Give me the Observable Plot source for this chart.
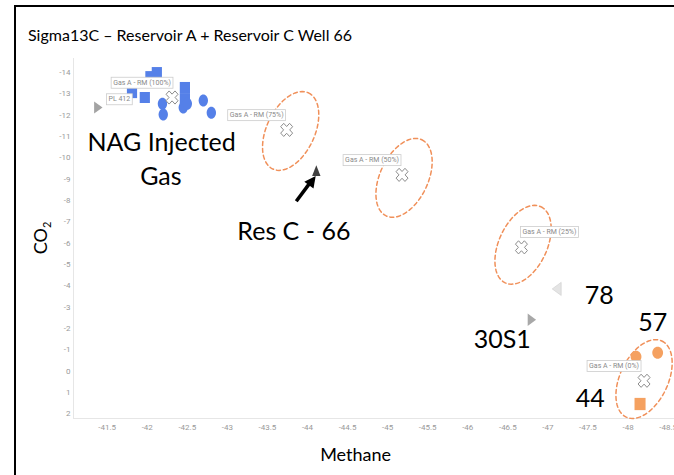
<!DOCTYPE html>
<html>
<head>
<meta charset="utf-8">
<script src="https://cdn.jsdelivr.net/npm/d3@7"></script>
<script src="https://cdn.jsdelivr.net/npm/@observablehq/plot@0.6"></script>
<style>
  body { margin: 0; background: #fff; }
  #wrap { position: relative; width: 674px; height: 475px; overflow: hidden; background: #fff; }
  #border { position: absolute; left: 14px; top: 5px; width: 700px; height: 500px; border-left: 2px solid #000; border-top: 2px solid #000; }
  #title { position: absolute; left: 28px; top: 25px; font: 16px Lato, "Open Sans", sans-serif; line-height: 20px; color: #000; white-space: nowrap; }
  #chart { position: absolute; left: 0; top: 50px; }
  #ylab { position: absolute; left: 41px; top: 238px; transform: translate(-50%, -50%) rotate(-90deg); font: 18px Lato, sans-serif; color: #000; white-space: nowrap; }
  #ylab sub { font-size: 11px; }
</style>
</head>
<body>
<div id="wrap">
  <div id="border"></div>
  <div id="title">Sigma13C – Reservoir A + Reservoir C Well 66</div>
  <div id="chart"></div>
  <div id="ylab">CO<sub>2</sub></div>
</div>
<script>
// ---- data (methane δ13C, CO2 δ13C) ----
const methaneTicks = [-41.5, -42, -42.5, -43, -43.5, -44, -44.5, -45, -45.5, -46, -46.5, -47, -47.5, -48, -48.5];
const co2Ticks = [-14, -13, -12, -11, -10, -9, -8, -7, -6, -5, -4, -3, -2, -1, 0, 1, 2];
const methaneDomain = [-41.08, -48.58];
const co2Domain = [2.23, -14.66];

const injectedSquares = [
  {m: -41.81, c: -13.06}, {m: -41.97, c: -12.83}, {m: -42.04, c: -13.81},
  {m: -42.12, c: -14.0}, {m: -42.47, c: -13.3}, {m: -42.47, c: -12.78}
];
const injectedCircles = [
  {m: -42.19, c: -12.54}, {m: -42.2, c: -12.03}, {m: -42.45, c: -12.36},
  {m: -42.5, c: -12.54}, {m: -42.7, c: -12.69}, {m: -42.8, c: -12.12}
];
const wellCircles = [ {m: -48.1, c: -0.67}, {m: -48.37, c: -0.85} ];
const wellSquares = [ {m: -48.15, c: 1.55} ];
const mixPoints = [
  {label: "Gas A - RM (100%)", m: -42.31, c: -12.83, side: "left"},
  {label: "Gas A - RM (75%)",  m: -43.74, c: -11.31, side: "left"},
  {label: "Gas A - RM (50%)",  m: -45.18, c: -9.2,   side: "left"},
  {label: "Gas A - RM (25%)",  m: -46.67, c: -5.8,   side: "right"},
  {label: "Gas A - RM (0%)",   m: -48.2,  c: 0.46,   side: "left"}
];
const pl412 = [ {label: "PL 412", m: -41.39, c: -12.36} ];
const resC66 = [ {m: -44.11, c: -9.4} ];
const well78 = [ {m: -47.11, c: -3.85} ];
const well30S1 = [ {m: -46.8, c: -2.4} ];
// dashed envelopes: centre plus two conjugate semi-axis vectors (data units)
const envelopes = [
  {m: -43.79, c: -11.26}, {m: -45.205, c: -9.06}, {m: -46.69, c: -5.92}, {m: -48.2, c: 0.38}
];
const envelopeAxisU = {m: -0.222, c: -1.787};
const envelopeAxisV = {m: -0.272, c: 0.476};
const annotations = [
  {text: "NAG Injected", m: -42.18, c: -10.71},
  {text: "Gas", m: -42.17, c: -9.12},
  {text: "Res C - 66", m: -43.83, c: -6.51},
  {text: "78", m: -47.64, c: -3.51},
  {text: "57", m: -48.31, c: -2.24},
  {text: "30S1", m: -46.43, c: -1.44},
  {text: "44", m: -47.53, c: 1.33}
];
// pointer arrow: tail, end of shaft, arrowhead centre (data units)
const pointerShaft = [ {m1: -43.86, c1: -7.96, m2: -44.04, c2: -8.87} ];
const pointerHead = [ {m: -44.06, c: -8.93} ];

// ---- custom symbols ----
function ellipseSymbol(kx, ky) {
  return {draw(ctx, size) {
    const r = Math.sqrt(size / Math.PI), rx = r * kx, ry = r * ky, K = 0.5523;
    ctx.moveTo(rx, 0);
    ctx.bezierCurveTo(rx, ry * K, rx * K, ry, 0, ry);
    ctx.bezierCurveTo(-rx * K, ry, -rx, ry * K, -rx, 0);
    ctx.bezierCurveTo(-rx, -ry * K, -rx * K, -ry, 0, -ry);
    ctx.bezierCurveTo(rx * K, -ry, rx, -ry * K, rx, 0);
    ctx.closePath();
  }};
}
function rectSymbol(kx, ky) {
  return {draw(ctx, size) {
    const r = Math.sqrt(size / Math.PI);
    ctx.rect(-r * kx, -r * ky, 2 * r * kx, 2 * r * ky);
  }};
}
function triSymbol(dir, kw, kh) {
  return {draw(ctx, size) {
    const r = Math.sqrt(size / Math.PI), w = r * kw, h = r * kh;
    if (dir === "up") { ctx.moveTo(0, -h); ctx.lineTo(w, h); ctx.lineTo(-w, h); }
    else if (dir === "right") { ctx.moveTo(w, 0); ctx.lineTo(-w, -h); ctx.lineTo(-w, h); }
    else { ctx.moveTo(-w, 0); ctx.lineTo(w, -h); ctx.lineTo(w, h); }
    ctx.closePath();
  }};
}
const crossSymbol = {draw(ctx, size) {
  const r = Math.sqrt(size / Math.PI), L = r * 1.05, a = r * 0.36;
  const pts = [[a,L],[a,a],[L,a],[L,-a],[a,-a],[a,-L],[-a,-L],[-a,-a],[-L,-a],[-L,a],[-a,a],[-a,L]];
  const c = Math.SQRT1_2;
  pts.forEach(([x, y], i) => {
    const X = (x - y) * c, Y = (x + y) * c * 1.1;
    i ? ctx.lineTo(X, Y) : ctx.moveTo(X, Y);
  });
  ctx.closePath();
}};

// ---- envelope outlines ----
const W = 674, H = 425, mL = 73, mR = 0, mT = 8, mB = 57;
const envelopeLines = [];
envelopes.forEach((e, k) => {
  const n = 72;
  for (let i = 0; i <= n; i++) {
    const t = 2 * Math.PI * i / n;
    envelopeLines.push({k,
      m: e.m + envelopeAxisU.m * Math.cos(t) + envelopeAxisV.m * Math.sin(t),
      c: e.c + envelopeAxisU.c * Math.cos(t) + envelopeAxisV.c * Math.sin(t)});
  }
});

const blue = "#5580e8", orange = "#f5a160";
const tagStyle = {fontSize: 7, fill: "#8a8a8a", ariaDescription: "tag"};

const plot = Plot.plot({
  width: W, height: H,
  marginLeft: mL, marginRight: mR, marginTop: mT, marginBottom: mB,
  style: {fontFamily: "Roboto, sans-serif", fontSize: "8px", color: "#9a9a9a", background: "transparent"},
  x: {domain: methaneDomain, ticks: methaneTicks, tickSize: 0, tickPadding: 6, tickFormat: d => String(d), label: null},
  y: {domain: co2Domain, ticks: co2Ticks, tickSize: 0, tickPadding: 3, tickFormat: d => String(d), label: null},
  marks: [
    Plot.ruleX([methaneDomain[0]], {stroke: "#e6e6e6", strokeWidth: 1}),
    Plot.ruleY([co2Domain[0]], {stroke: "#e6e6e6", strokeWidth: 1}),
    Plot.line(envelopeLines, {x: "m", y: "c", z: "k", stroke: "#f0905a", strokeWidth: 1.5, strokeDasharray: "4,3", curve: "linear"}),
    Plot.dot(injectedSquares, {x: "m", y: "c", r: 6, symbol: rectSymbol(0.85, 0.92), fill: blue, stroke: "none"}),
    Plot.dot(injectedCircles, {x: "m", y: "c", r: 6, symbol: ellipseSymbol(0.78, 1.0), fill: blue, stroke: "none"}),
    Plot.dot(wellCircles, {x: "m", y: "c", r: 6, symbol: ellipseSymbol(0.9, 1.0), fill: orange, stroke: "none"}),
    Plot.dot(wellSquares, {x: "m", y: "c", r: 6, symbol: rectSymbol(0.92, 1.02), fill: orange, stroke: "none"}),
    Plot.dot(pl412, {x: "m", y: "c", r: 6, symbol: triSymbol("right", 0.7, 1.0), fill: "#a3a3a3", stroke: "none"}),
    Plot.dot(well30S1, {x: "m", y: "c", r: 6, symbol: triSymbol("right", 0.7, 1.05), fill: "#a8a8a8", stroke: "none"}),
    Plot.dot(well78, {x: "m", y: "c", r: 6, symbol: triSymbol("left", 0.75, 1.1), fill: "#e4e4e4", stroke: "#cfcfcf", strokeWidth: 0.6}),
    Plot.dot(resC66, {x: "m", y: "c", r: 6, symbol: triSymbol("up", 0.7, 0.9), fill: "#3f3f3f", stroke: "none"}),
    Plot.dot(mixPoints, {x: "m", y: "c", r: 6, symbol: crossSymbol, fill: "#fff", stroke: "#8c8c8c", strokeWidth: 1}),
    Plot.link(pointerShaft, {x1: "m1", y1: "c1", x2: "m2", y2: "c2", stroke: "#000", strokeWidth: 3.5}),
    Plot.dot(pointerHead, {x: "m", y: "c", r: 6, symbol: triSymbol("up", 0.95, 0.95), rotate: 36.5, fill: "#000", stroke: "none"}),
    Plot.text(annotations, {x: "m", y: "c", text: "text", fontSize: 25, fontFamily: "Lato, sans-serif", fill: "#000"}),
    Plot.text(mixPoints.filter(d => d.side === "left"), {x: "m", y: "c", text: "label", dx: -30, dy: -15, ...tagStyle}),
    Plot.text(mixPoints.filter(d => d.side === "right"), {x: "m", y: "c", text: "label", dx: 28, dy: -15.5, ...tagStyle}),
    Plot.text(pl412, {x: "m", y: "c", text: "label", dx: 21, dy: -8.5, ...tagStyle}),
    Plot.text(["Methane"], {x: [-44.6], frameAnchor: "bottom", dy: 42, text: d => d, fontSize: 18, fontFamily: "Lato, sans-serif", fill: "#000"})
  ]
});
document.getElementById("chart").appendChild(plot);

// boxes behind the small tag labels
plot.querySelectorAll('[aria-description="tag"] text').forEach(t => {
  const b = t.getBBox();
  const r = document.createElementNS("http://www.w3.org/2000/svg", "rect");
  r.setAttribute("x", b.x - 2);
  r.setAttribute("y", b.y - 1.5);
  r.setAttribute("width", b.width + 4);
  r.setAttribute("height", b.height + 3);
  r.setAttribute("fill", "#fff");
  r.setAttribute("stroke", "#cccccc");
  r.setAttribute("stroke-width", "0.8");
  if (t.getAttribute("transform")) r.setAttribute("transform", t.getAttribute("transform"));
  t.parentNode.insertBefore(r, t);
});
</script>
</body>
</html>
